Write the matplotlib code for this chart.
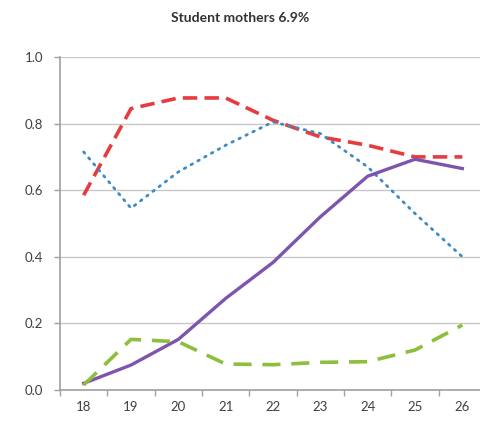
import matplotlib
matplotlib.use("Agg")
import matplotlib.pyplot as plt
import numpy as np

plt.rcParams["font.family"] = ["Lato", "DejaVu Sans"]

ages = ["18", "19", "20", "21", "22", "23", "24", "25", "26"]
red_dashed = [0.585, 0.845, 0.877, 0.877, 0.81, 0.76, 0.735, 0.70, 0.70]
blue_dotted = [0.715, 0.546, 0.655, 0.735, 0.805, 0.77, 0.67, 0.53, 0.40]
purple_solid = [0.02, 0.075, 0.152, 0.275, 0.383, 0.52, 0.642, 0.693, 0.665]
green_dashed = [0.015, 0.152, 0.145, 0.078, 0.076, 0.083, 0.085, 0.12, 0.195]
yticks = [0.0, 0.2, 0.4, 0.6, 0.8, 1.0]

fig = plt.figure(figsize=(4.8, 4.21), dpi=100)
ax = fig.add_axes([60/480, 1-390/421, 426/480, 333/421])
x = np.arange(len(ages))

ax.plot(x, red_dashed, color="#E63B3F", lw=2.6, dashes=(4, 2), solid_capstyle="butt")
ax.plot(x, blue_dotted, color="#3D8CC4", lw=2.0, dashes=(0.6, 2.2), dash_capstyle="round")
ax.plot(x, purple_solid, color="#7E55AE", lw=2.4)
ax.plot(x, green_dashed, color="#8DBE3C", lw=2.6, dashes=(5, 3))

ax.set_xlim(-0.5, len(ages) - 0.5)
ax.set_ylim(0, 1.0)
ax.set_yticks(yticks)
ax.set_yticklabels([f"{v:.1f}" for v in yticks])
ax.set_xticks(x)
ax.set_xticklabels(ages)
ax.set_xticks(np.arange(len(ages) + 1) - 0.5, minor=True)
ax.tick_params(axis="x", which="major", length=0, pad=8, labelsize=9.5, colors="#404040")
ax.tick_params(axis="x", which="minor", length=4, color="#A0A0A0", width=1)
ax.tick_params(axis="y", length=4, color="#A0A0A0", width=1, pad=8, labelsize=9.5, labelcolor="#404040")

ax.grid(axis="y", color="#C8C8C8", lw=1)
ax.set_axisbelow(True)
for s in ["top", "right"]:
    ax.spines[s].set_visible(False)
for s in ["left", "bottom"]:
    ax.spines[s].set_color("#A0A0A0")
    ax.spines[s].set_linewidth(1.2)

fig.text(240/480, 1-18/421, "Student mothers 6.9%", ha="center", va="center",
         fontsize=10, fontweight="bold", color="#333333")

fig.savefig("out.png", dpi=100)
